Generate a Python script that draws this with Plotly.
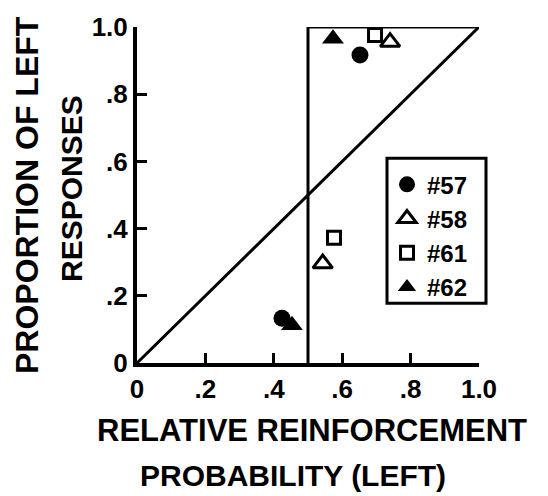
import plotly.graph_objects as go

# Data (x = relative reinforcement probability, y = proportion of left responses)
subjects = ["#57", "#58", "#61", "#62"]
x_57 = [0.424, 0.652]
y_57 = [0.133, 0.917]
x_58 = [0.543, 0.740]
y_58 = [0.296, 0.955]
x_61 = [0.576, 0.696]
y_61 = [0.373, 0.976]
x_62 = [0.453, 0.573]
y_62 = [0.112, 0.965]

# reference lines: matching diagonal and maximizing step
diag_x = [0, 1]
diag_y = [0, 1]
step_x = [0.5, 0.5, 1.0]
step_y = [0, 1.0, 1.0]

tick_vals = [0, 0.2, 0.4, 0.6, 0.8, 1.0]
x_tick_text = ["0", ".2", ".4", ".6", ".8", "1.0"]
y_tick_text = ["0", ".2", ".4", ".6", ".8", "1.0"]

FONT = "Liberation Sans"
BLACK = "black"

# plot area in pixels
L, R, T, B = 137, 479, 25, 363
W, H = R - L, B - T


def px(x):
    return (x - L) / W


def py(y):
    return (B - y) / H


fig = go.Figure()
fig.add_trace(go.Scatter(x=diag_x, y=diag_y, mode="lines", line=dict(color=BLACK, width=3),
                         showlegend=False, hoverinfo="skip"))
fig.add_trace(go.Scatter(x=step_x, y=step_y, mode="lines", line=dict(color=BLACK, width=3),
                         showlegend=False, hoverinfo="skip"))

series = [
    (subjects[0], x_57, y_57, dict(symbol="circle", size=17, color=BLACK, line=dict(width=0))),
    (subjects[1], x_58, y_58, dict(symbol="triangle-up-open", size=17, color=BLACK, line=dict(width=3, color=BLACK))),
    (subjects[2], x_61, y_61, dict(symbol="square-open", size=13, color=BLACK, line=dict(width=3, color=BLACK))),
    (subjects[3], x_62, y_62, dict(symbol="triangle-up", size=19, color=BLACK, line=dict(width=0))),
]
for name, xs, ys, mk in series:
    fig.add_trace(go.Scatter(x=xs, y=ys, mode="markers", name="<b>%s</b>" % name, marker=mk, cliponaxis=False))

axis_common = dict(
    showline=True, linecolor=BLACK, linewidth=4, mirror=False,
    ticks="inside", ticklen=10, tickwidth=3, tickcolor=BLACK,
    showgrid=False, zeroline=False, tickmode="array", tickvals=tick_vals,
    tickfont=dict(family=FONT, size=26, color=BLACK, weight="bold"),
)

fig.update_layout(
    width=548, height=496,
    margin=dict(l=L, r=548 - R, t=T, b=496 - B),
    paper_bgcolor="white", plot_bgcolor="white",
    xaxis=dict(range=[0, 1.0], ticktext=x_tick_text, **axis_common),
    yaxis=dict(range=[0, 1.0], ticktext=y_tick_text, **axis_common),
    legend=dict(
        x=px(387), y=py(161), xanchor="left", yanchor="top",
        borderwidth=0, bgcolor="rgba(0,0,0,0)",
        font=dict(family=FONT, size=24, color=BLACK),
        itemsizing="trace", tracegroupgap=0,
    ),
    showlegend=True,
)

# legend frame
fig.add_shape(type="rect", xref="paper", yref="paper",
              x0=px(387), x1=px(486), y0=py(303), y1=py(157),
              line=dict(color=BLACK, width=3), fillcolor="rgba(0,0,0,0)", layer="below")

fig.add_annotation(text="<b>RELATIVE REINFORCEMENT</b>", xref="paper", yref="paper",
                   x=px(312), y=py(431), xanchor="center", yanchor="middle",
                   showarrow=False, font=dict(family=FONT, size=31, color=BLACK))
fig.add_annotation(text="<b>PROBABILITY (LEFT)</b>", xref="paper", yref="paper",
                   x=px(293), y=py(476), xanchor="center", yanchor="middle",
                   showarrow=False, font=dict(family=FONT, size=30, color=BLACK))
fig.add_annotation(text="<b>PROPORTION OF LEFT</b>", xref="paper", yref="paper",
                   x=px(27), y=py(194), xanchor="center", yanchor="middle",
                   textangle=-90, showarrow=False, font=dict(family=FONT, size=32, color=BLACK))
fig.add_annotation(text="<b>RESPONSES</b>", xref="paper", yref="paper",
                   x=px(71), y=py(188), xanchor="center", yanchor="middle",
                   textangle=-90, showarrow=False, font=dict(family=FONT, size=30, color=BLACK))

fig.write_html("out.html")
